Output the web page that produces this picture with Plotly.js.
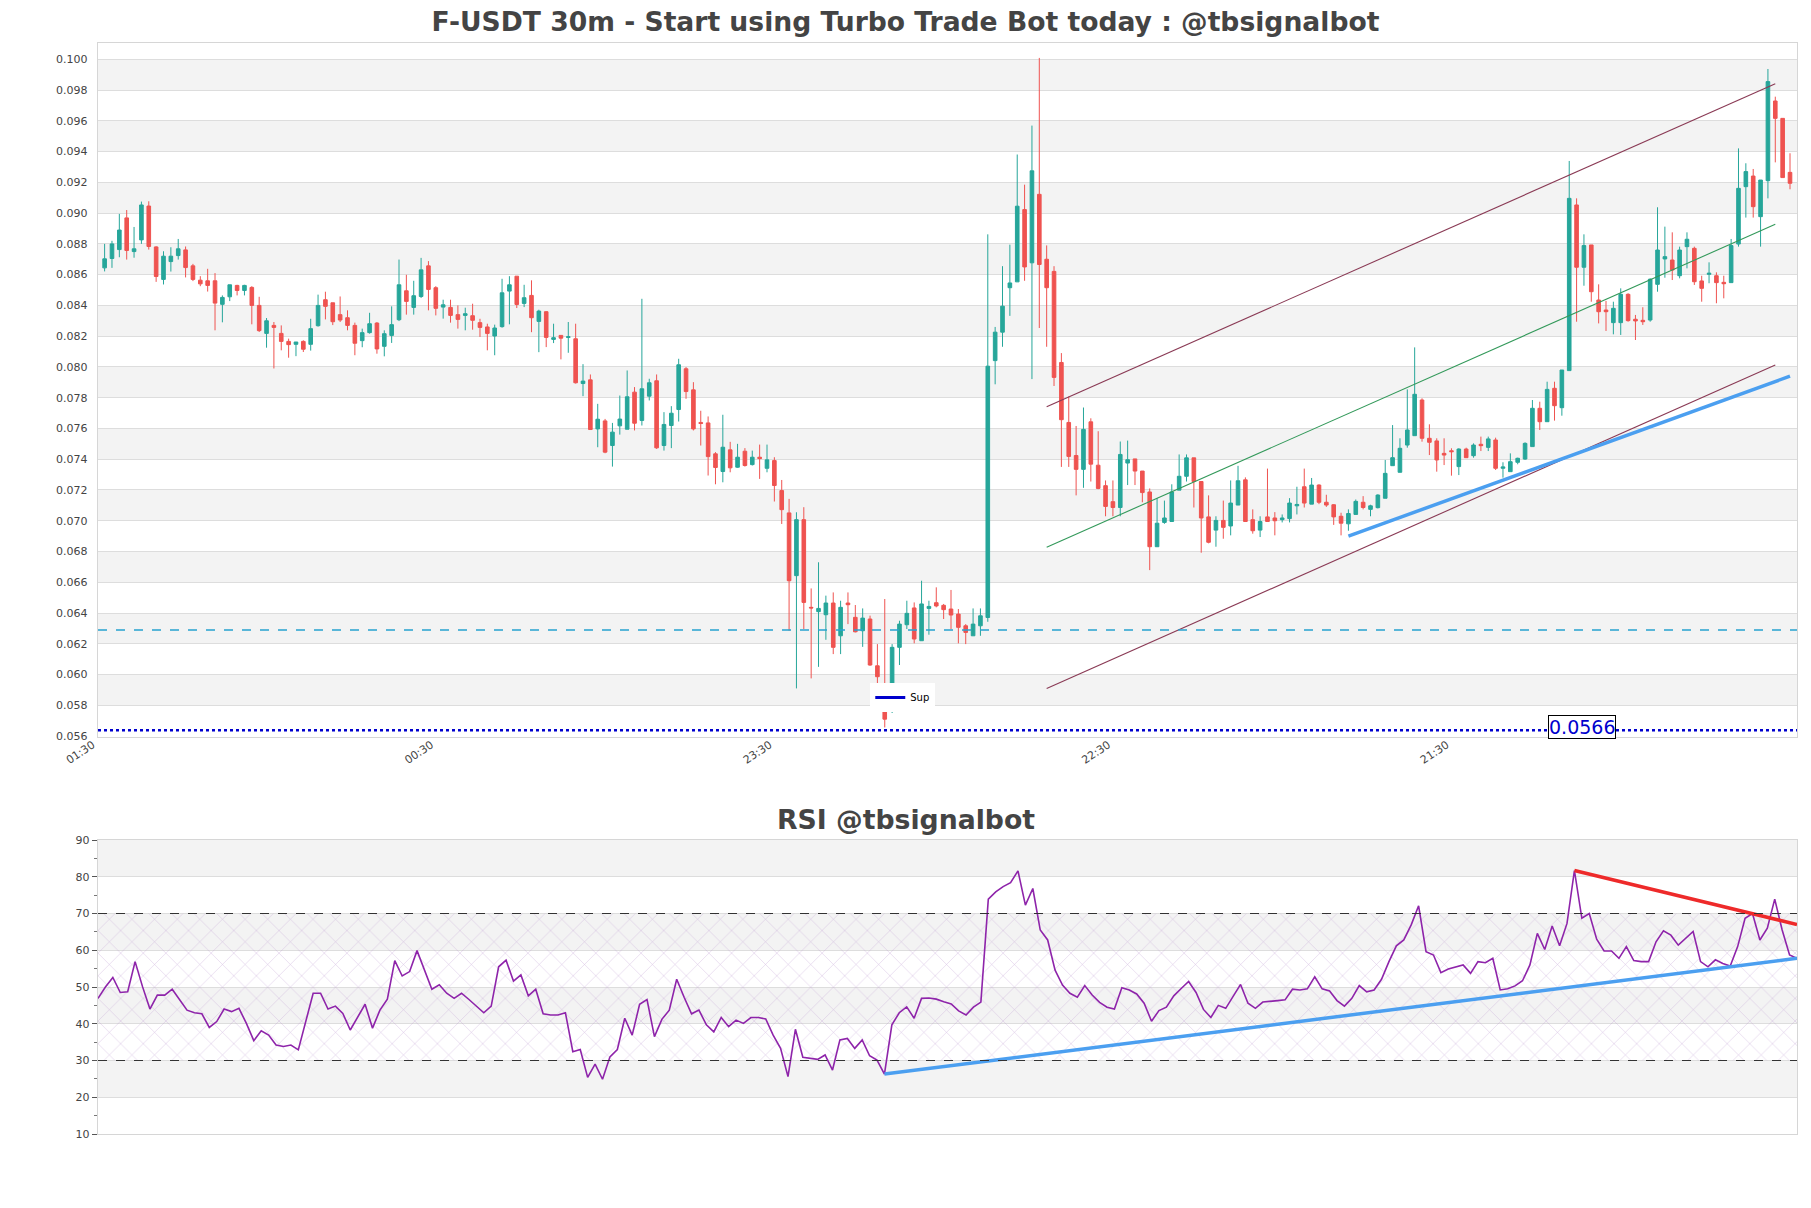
<!DOCTYPE html>
<html>
<head>
<meta charset="utf-8">
<script src="https://cdn.plot.ly/plotly-3.0.1.min.js"></script>
<style>html,body{margin:0;padding:0;background:#fff;}#chart{width:1811px;height:1208px;}</style>
</head>
<body>
<div id="chart"></div>
<script>
// ---------------- DATA ----------------
const chartTitle = "F-USDT 30m - Start using Turbo Trade Bot today : @tbsignalbot";
const rsiTitle = "RSI @tbsignalbot";

const tickIndex = [0, 46, 92, 138, 184];
const tickLabels = ["01:30", "00:30", "23:30", "22:30", "21:30"];

const open = [
.08644,.08705,.08763,.08969,.0875,.08826,.09046,.0878,.08569,.08685,
.08724,.08761,.08657,.08564,.0856,.0856,.08407,.08456,.0853,.08497,
.08517,.0840,.08218,.0827,.08218,.08166,.08147,.08166,.08147,.08268,
.08437,.08417,.0834,.0832,.0827,.08171,.08223,.08285,.08134,.08205,
.08307,.08495,.08387,.08458,.08657,.08515,.08389,.08387,.0834,.08335,
.08333,.08288,.0826,.08201,.08262,.08493,.0859,.08413,.08465,.08296,
.08359,.08179,.08205,.08192,.08183,.07892,.07916,.07597,.07649,.07489,
.07617,.07595,.07836,.07652,.0781,.0791,.07489,.07619,.07723,.07988,
.07851,.07639,.07636,.07435,.0732,.07461,.07348,.07452,.07365,.07413,
.07341,.07391,.07196,.07051,.06643,.07007,.06437,.06409,.06389,.06465,
.06252,.06465,.06372,.06285,.06361,.06057,.0579,.05775,.06177,.06324,
.06433,.0622,.0643,.06467,.0645,.06426,.06393,.06317,.06252,.06317,
.06371,.08041,.08226,.08515,.08553,.09023,.08677,.09122,.087,.08621,
.08029,.07639,.07424,.07334,.07643,.07361,.07228,.07124,.07086,.07375,
.07402,.07323,.07187,.06831,.06989,.06995,.07199,.07289,.07409,.07255,
.07025,.06939,.07002,.06966,.07102,.07266,.07007,.06939,.07025,.07018,
.07007,.07014,.07097,.07221,.07108,.07232,.0712,.07104,.07029,.0698,
.07041,.0712,.07074,.07085,.07146,.07358,.07315,.07492,.07553,.07785,
.07536,.07519,.07438,.07455,.07352,.07466,.07423,.07497,.07477,.07525,
.07341,.07319,.0738,.07401,.07482,.07731,.07644,.07861,.07735,.07976,
.09053,.08648,.08793,.08435,.0837,.08288,.08288,.08472,.0831,.08303,
.08305,.08537,.08702,.08695,.08593,.08782,.08771,.08559,.08602,.08593,
.0855,.08548,.08799,.09172,.09241,.08977,.09211,.09729,.09616,.09265];

const high = [
.0880,.0882,.08995,.0902,.0891,.09075,.09077,.08785,.08752,.08778,
.08832,.08783,.0867,.0859,.08638,.0861,.08465,.08534,.08534,.08534,
.08525,.08456,.08318,.08292,.0827,.08184,.08162,.08173,.08313,.0847,
.08489,.08417,.08458,.08368,.08288,.08249,.08352,.08292,.08238,.08394,
.08698,.08599,.0856,.08709,.08688,.08525,.08437,.08437,.0840,.08385,
.08411,.08313,.08281,.08275,.08573,.0859,.0859,.08534,.08563,.08372,
.08363,.08281,.08205,.08292,.08281,.08018,.07951,.0776,.07662,.07636,
.07814,.07977,.07869,.08443,.07923,.07951,.07706,.07745,.08053,.07999,
.07901,.07715,.07678,.07446,.07689,.07513,.0750,.07472,.07456,.07495,
.07495,.07413,.07265,.07142,.07055,.07088,.0656,.0673,.06513,.06534,
.0648,.06534,.06452,.0643,.06383,.06198,.06491,.06198,.0635,.0648,
.06469,.0661,.0648,.06567,.06459,.0655,.06426,.06328,.0643,.0643,
.08862,.0826,.08655,.08795,.09381,.09185,.09569,.10009,.0879,.08655,
.0809,.07808,.07616,.07736,.07666,.07582,.07262,.07262,.07515,.07521,
.07402,.07323,.0721,.07147,.07131,.07237,.07431,.07431,.07409,.07255,
.07165,.07029,.07131,.07262,.07357,.07282,.07074,.07029,.07339,.07056,
.07041,.07147,.07221,.07339,.07278,.07237,.07169,.07108,.07052,.07074,
.07138,.0716,.07104,.07172,.07395,.07622,.07536,.07854,.08127,.07796,
.07627,.07536,.07536,.07471,.07471,.07475,.07503,.07547,.07547,.0754,
.0738,.07438,.0741,.0751,.07785,.07774,.07904,.07904,.0798,.09339,
.09096,.08862,.08793,.08537,.08429,.08424,.08511,.08479,.08338,.08388,
.08576,.09038,.08912,.08875,.08782,.08875,.08782,.08593,.0868,.08615,
.08593,.08832,.09421,.09324,.09287,.09215,.09937,.09757,.09616,.09389];

const low = [
.08621,.08644,.08713,.08698,.0871,.0880,.08763,.08553,.08536,.0862,
.08698,.08582,.08558,.08525,.0849,.08238,.0829,.08428,.08465,.08465,
.08277,.08227,.08125,.0799,.08108,.0806,.0807,.08097,.08106,.08262,
.08309,.08272,.08292,.08238,.08076,.08128,.08216,.08086,.08069,.08156,
.08298,.0834,.0834,.08448,.08368,.08335,.08314,.08288,.08249,.08238,
.08242,.08195,.08108,.08076,.08255,.08277,.08383,.08389,.08226,.08096,
.08129,.08155,.08049,.08092,.07892,.0781,.07593,.07478,.07439,.07352,
.0756,.07595,.07587,.07619,.07782,.07467,.07456,.07472,.07645,.07793,
.07587,.07489,.07294,.07237,.0725,.07315,.07344,.07352,.07359,.07272,
.07315,.07125,.06979,.06285,.0591,.06296,.05975,.0605,.06226,.06133,
.06133,.06328,.06274,.0618,.06057,.05845,.05656,.0575,.06062,.06296,
.06203,.0622,.06259,.06437,.06361,.06296,.06203,.06198,.06252,.06252,
.06343,.07887,.08131,.08332,.08553,.0856,.07921,.08253,.08131,.07876,
.0735,.0735,.07165,.07214,.07255,.07205,.07029,.07029,.07029,.07232,
.07232,.0712,.06679,.06831,.0698,.06995,.07199,.07255,.07086,.06792,
.06853,.06831,.06883,.06905,.07102,.06995,.06916,.06894,.06995,.06905,
.06989,.06989,.07041,.07086,.07108,.07108,.0709,.06973,.06905,.06935,
.07041,.07074,.07029,.0708,.07146,.07358,.07315,.07475,.07553,.07514,
.07427,.07319,.07362,.07293,.07297,.0741,.0741,.07453,.07453,.0733,
.0728,.07319,.07367,.07395,.07482,.0759,.07644,.07651,.07683,.07976,
.08294,.08528,.08424,.08283,.08234,.08212,.08208,.08294,.08175,.08273,
.08294,.08489,.0858,.08565,.08576,.08641,.08533,.08424,.08544,.08414,
.08446,.08548,.08782,.08971,.08971,.08782,.09096,.0933,.09231,.09155];

const close = [
.08703,.0880,.0889,.08757,.08768,.09053,.08783,.08588,.0872,.0872,
.08768,.08646,.08569,.0854,.0853,.08415,.08452,.08534,.08497,.0853,
.0840,.08236,.0830,.08257,.08166,.08145,.08162,.08115,.08249,.0840,
.08394,.08294,.08305,.0827,.08154,.08223,.08281,.08117,.08216,.08275,
.08534,.08426,.08463,.08631,.08504,.08381,.08404,.08335,.08309,.08346,
.08303,.08257,.08218,.08253,.08482,.08534,.08406,.0845,.0832,.08363,
.08192,.0819,.08187,.08196,.07897,.07908,.07593,.0766,.07446,.07576,
.07661,.07806,.07634,.07858,.07897,.07474,.07626,.07699,.08014,.0784,
.07597,.07632,.07417,.07346,.07478,.07344,.07413,.07359,.07413,.07404,
.07396,.07229,.07072,.0661,.07007,.06469,.06433,.0643,.06465,.06177,
.06437,.06454,.06278,.06367,.06062,.05986,.0571,.06177,.06328,.06398,
.06231,.06459,.06443,.06446,.06422,.06387,.06307,.06274,.06328,.06382,
.08005,.08226,.08395,.08546,.09045,.0865,.09275,.08666,.08515,.07932,
.07657,.07418,.07334,.07594,.07368,.0721,.07093,.07086,.07431,.07397,
.07323,.07183,.06831,.06984,.07018,.07187,.07289,.07409,.07255,.07018,
.0686,.07002,.06957,.07115,.0726,.06995,.06935,.06995,.06995,.0700,
.07018,.07115,.07106,.07115,.07232,.0712,.07102,.07025,.06984,.07047,
.07126,.07086,.07097,.07167,.07308,.0741,.07471,.0759,.07822,.07536,
.0751,.07395,.07427,.07449,.07466,.0741,.07492,.07488,.07532,.07341,
.0735,.07384,.07406,.07503,.07731,.07644,.07854,.07748,.0798,.09096,
.08648,.08789,.08489,.08359,.08359,.08381,.08472,.08301,.08299,.08294,
.0857,.0876,.08717,.0863,.0876,.0883,.08554,.08511,.08609,.08548,
.08541,.08789,.09161,.0927,.09042,.09215,.09855,.09616,.09231,.09194];

const rsi = [
46.9,50.0,52.6,48.5,48.7,56.9,50.1,44.0,47.8,47.8,
49.4,46.5,43.7,43.0,42.7,39.0,40.6,44.0,43.3,44.2,
40.1,35.4,38.1,36.9,34.2,33.8,34.2,32.9,41.0,48.3,
48.3,44.0,44.8,42.8,38.3,41.9,45.3,38.8,43.7,46.7,
57.2,53.0,54.2,59.9,54.6,49.4,50.6,48.3,46.9,48.3,
46.6,44.8,43.0,44.8,55.5,57.3,51.6,53.3,47.6,49.4,
42.7,42.4,42.4,43.0,32.4,33.0,25.4,29.0,24.9,31.0,
33.0,41.5,36.9,45.3,46.6,36.5,41.2,43.7,52.1,47.2,
42.7,43.7,39.7,37.8,41.7,39.2,41.0,40.1,41.7,41.7,
41.3,36.9,33.3,25.6,38.5,30.9,30.6,30.3,31.5,27.4,
35.6,36.0,33.3,35.6,31.3,30.1,26.3,39.7,43.0,44.6,
41.5,46.9,47.0,46.7,46.0,45.4,43.5,42.4,44.5,45.9,
73.9,75.9,77.3,78.4,81.6,72.3,76.8,65.5,62.8,54.6,
50.5,48.3,47.2,50.4,47.8,45.8,44.5,44.0,49.8,49.2,
48.1,45.6,40.7,43.6,44.5,47.6,49.6,51.5,48.5,43.9,
41.7,45.0,44.2,47.6,50.7,45.6,44.2,45.9,46.0,46.3,
46.5,49.4,49.2,49.5,52.8,49.5,48.9,46.3,44.8,46.9,
50.4,48.7,49.2,52.1,56.9,61.2,62.8,66.9,72.1,59.6,
58.7,53.9,54.9,55.4,56.0,53.7,56.9,56.6,57.8,49.2,
49.5,50.3,51.7,56.0,64.6,60.2,66.6,61.2,67.3,81.7,
68.7,70.0,63.0,59.8,59.8,57.8,61.0,57.2,56.9,56.9,
62.3,65.3,64.1,61.4,63.2,65.1,56.9,55.5,57.4,56.4,
55.7,61.0,68.7,70.0,62.8,66.0,73.9,65.5,58.7,57.8];

// levels and drawn lines
const supLevel = 0.05638;
const supLabel = "0.0566";
const supLabelLevel = 0.0566;
const midLevel = 0.0629;
const channelX = [128, 227];
const channelUpper = [0.07741, 0.09841];
const channelMid = [0.06828, 0.08927];
const channelLower = [0.05910, 0.08012];
const supportX = [169, 229];
const supportY = [0.0690, 0.0794];
const rsiSupportX = [106, 229];
const rsiSupportY = [26.3, 57.8];
const rsiResistX = [199, 229];
const rsiResistY = [81.7, 67.0];
const rsiLevels = [30, 70];

// ---------------- CHART ----------------
const idx = open.map((_, i) => i);
const W = 1811, H = 1208;
const mL = 97.5, mR = 14, mT = 43, mB = 74;
const ph = H - mT - mB;
const pw = W - mL - mR;
const mainDomain = [(H - mB - 737) / ph, 1];
const rsiDomain = [0, (H - mB - 840) / ph];
const mainXRange = [-0.9, 229.95];
const mainYRange = [0.05594, 0.10106];
const rsiXRange = [0, idx.length - 1];

const FONT = 'DejaVu Sans, Verdana, sans-serif';
const GREEN = '#26a69a', RED = '#ef5350';

const traces = [];
traces.push({
  type: 'candlestick', x: idx, open: open, high: high, low: low, close: close,
  xaxis: 'x', yaxis: 'y', showlegend: false, hoverinfo: 'skip',
  increasing: {line: {color: GREEN, width: 1}, fillcolor: GREEN},
  decreasing: {line: {color: RED, width: 1}, fillcolor: RED}
});
const lineTrace = (x, y, color, width, xa, ya, dash) => ({
  type: 'scatter', mode: 'lines', x: x, y: y, xaxis: xa, yaxis: ya,
  showlegend: false, hoverinfo: 'skip',
  line: {color: color, width: width, dash: dash || 'solid'}
});
traces.push(lineTrace(channelX, channelUpper, '#8a3a55', 1.1, 'x', 'y'));
traces.push(lineTrace(channelX, channelLower, '#8a3a55', 1.1, 'x', 'y'));
traces.push(lineTrace(channelX, channelMid, '#33995a', 1.1, 'x', 'y'));
traces.push(lineTrace(supportX, supportY, '#4b9ff0', 3.5, 'x', 'y'));
traces.push(lineTrace(mainXRange, [midLevel, midLevel], '#27a3cf', 1.4, 'x', 'y', 'dash'));
traces.push(lineTrace(mainXRange, [supLevel, supLevel], '#0000cd', 2.6, 'x', 'y', 'dot'));
// legend entry for the support level
traces.push({
  type: 'scatter', mode: 'lines', name: 'Sup', x: [null], y: [null],
  xaxis: 'x', yaxis: 'y', showlegend: true, hoverinfo: 'skip',
  line: {color: '#0000cd', width: 3}
});
// RSI hatched zone
traces.push({
  type: 'scatter', mode: 'lines', x: [rsiXRange[0], rsiXRange[1], rsiXRange[1], rsiXRange[0], rsiXRange[0]],
  y: [rsiLevels[0], rsiLevels[0], rsiLevels[1], rsiLevels[1], rsiLevels[0]],
  xaxis: 'x2', yaxis: 'y2', fill: 'toself', showlegend: false, hoverinfo: 'skip',
  line: {width: 0, color: 'rgba(0,0,0,0)'},
  fillcolor: 'rgba(228,205,240,0.25)',
  fillpattern: {shape: 'x', fgcolor: 'rgb(180,140,205)', fgopacity: 0.55, size: 16, solidity: 0.06}
});
traces.push(lineTrace(idx, rsi, '#8e24aa', 1.6, 'x2', 'y2'));
traces.push(lineTrace(rsiSupportX, rsiSupportY, '#4b9ff0', 3.5, 'x2', 'y2'));
traces.push(lineTrace(rsiResistX, rsiResistY, '#ee2a2a', 3.5, 'x2', 'y2'));

const shapes = [];
for (let b = 0.058; b < 0.0995; b += 0.004) {
  shapes.push({type: 'rect', xref: 'x domain', x0: 0, x1: 1, yref: 'y', y0: b, y1: b + 0.002,
    fillcolor: '#f3f3f3', line: {width: 0}, layer: 'below'});
}
for (let b = 20; b <= 80; b += 20) {
  shapes.push({type: 'rect', xref: 'x2 domain', x0: 0, x1: 1, yref: 'y2', y0: b, y1: b + 10,
    fillcolor: '#f3f3f3', line: {width: 0}, layer: 'below'});
}
rsiLevels.forEach(v => shapes.push({type: 'line', xref: 'x2 domain', x0: 0, x1: 1, yref: 'y2', y0: v, y1: v,
  line: {color: '#333', width: 1.2, dash: 'dash'}}));

const axisLine = {showline: true, mirror: true, linecolor: '#d6d6d6', linewidth: 1.3, zeroline: false};
const tickFont = {family: FONT, size: 11, color: '#444'};

const layout = {
  width: W, height: H,
  margin: {l: mL, r: mR, t: mT, b: mB, pad: 0},
  paper_bgcolor: '#fff', plot_bgcolor: 'rgba(0,0,0,0)',
  font: {family: FONT, color: '#444'},
  title: {text: chartTitle, x: 0.5, xref: 'container', xanchor: 'center',
    y: 1 - 22 / H, yref: 'container', yanchor: 'middle',
    font: {family: FONT, size: 26.6, color: '#444', weight: 'bold'}},
  showlegend: true,
  legend: {x: (870 - mL) / pw, y: mainDomain[0] + (737 - 683) / ph, xanchor: 'left', yanchor: 'top',
    bgcolor: '#fff', font: {family: FONT, size: 10, color: '#000'}, itemwidth: 30, tracegroupgap: 0},
  xaxis: Object.assign({domain: [0, 1], anchor: 'y', range: mainXRange, tickmode: 'array',
    tickvals: tickIndex, ticktext: tickLabels, tickangle: -34, tickfont: tickFont, showgrid: false,
    ticklabelshift: -12, ticklabelstandoff: -4,
    rangeslider: {visible: false}, fixedrange: true}, axisLine),
  yaxis: Object.assign({domain: mainDomain, anchor: 'x', range: mainYRange, tick0: 0, dtick: 0.002,
    tickformat: '.3f', tickfont: tickFont, gridcolor: '#dddddd', gridwidth: 1, ticklabelstandoff: 7,
    fixedrange: true}, axisLine),
  xaxis2: Object.assign({domain: [0, 1], anchor: 'y2', range: rsiXRange, showticklabels: false,
    showgrid: false, fixedrange: true}, axisLine),
  yaxis2: Object.assign({domain: rsiDomain, anchor: 'x2', range: [10, 90], tick0: 0, dtick: 10,
    ticks: 'outside', ticklen: 5, tickcolor: '#555', tickfont: tickFont, gridcolor: '#dddddd',
    minor: {dtick: 5, ticks: 'outside', ticklen: 3, tickcolor: '#777', showgrid: false},
    fixedrange: true}, axisLine),
  shapes: shapes,
  annotations: [
    {text: rsiTitle, xref: 'paper', x: (905.5 - mL) / pw, yref: 'paper',
      y: (H - mB - 819.5) / ph, xanchor: 'center', yanchor: 'middle', showarrow: false,
      font: {family: FONT, size: 26.7, color: '#444', weight: 'bold'}},
    {text: supLabel, xref: 'paper', x: (1582 - mL) / pw, yref: 'y', y: supLabelLevel,
      xanchor: 'center', yanchor: 'middle', showarrow: false, bgcolor: '#fff', bordercolor: '#000',
      borderwidth: 1, borderpad: 0, font: {family: FONT, size: 19, color: '#0000cd'}}
  ]
};

Plotly.newPlot('chart', traces, layout, {staticPlot: true, displayModeBar: false});
</script>
</body>
</html>
